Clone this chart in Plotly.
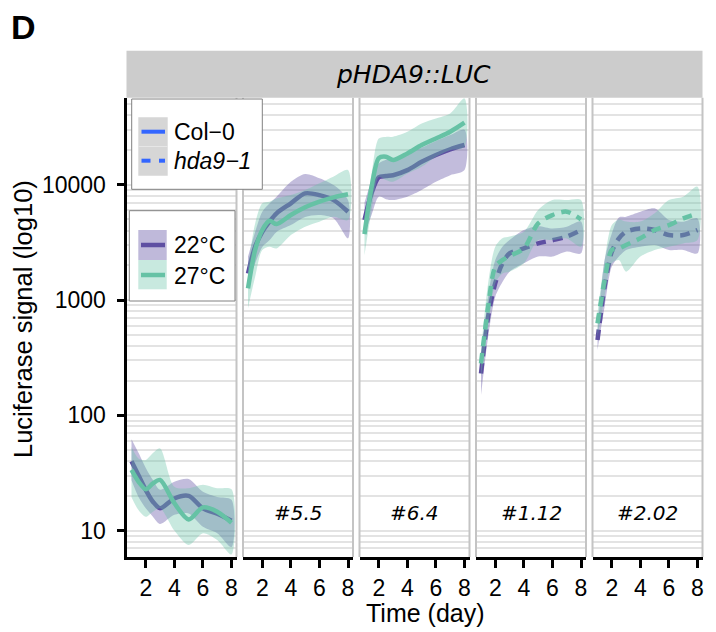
import plotly.graph_objects as go

# ---------------- data ----------------
days = [1, 1.5, 2, 2.5, 3, 4, 5, 6, 7, 8]
panel_labels = ["", "#5.5", "#6.4", "#1.12", "#2.02"]
panel_genotype = ["Col-0", "Col-0", "Col-0", "hda9-1", "hda9-1"]
y_tick_values = [10, 100, 1000, 10000]
y_tick_labels = ["10", "100", "1000", "10000"]
x_tick_values = [2, 4, 6, 8]

# panel 1 (no label)
p1_22_fit = [40, 30, 22.5, 17.8, 15.6, 19, 20, 15.6, 14, 12.2]
p1_22_lo = [27.4, 19.5, 15.6, 13.2, 11.4, 13.7, 14.1, 10.8, 9.5, 7.2]
p1_22_hi = [62, 47, 35, 27.5, 22.6, 26.5, 28, 21.7, 19.6, 18.5]
p1_27_fit = [33.6, 26.5, 22.8, 25.7, 27.5, 17.3, 12.5, 15.9, 14.6, 11.7]
p1_27_lo = [19.5, 15, 13.2, 14.6, 15.6, 10, 7.5, 9.5, 8.3, 6.2]
p1_27_hi = [53, 42, 41, 47, 51.6, 24, 23.3, 25, 23.3, 22.8]
# panel 2 (#5.5)
p2_22_fit = [1700, 2900, 3900, 4780, 5650, 6900, 8420, 8130, 7360, 5830]
p2_22_lo = [1400, 2080, 2890, 3300, 3900, 4470, 5260, 5460, 5100, 3430]
p2_22_hi = [2380, 3890, 5830, 6880, 7870, 10600, 12400, 11400, 9930, 7360]
p2_27_fit = [1260, 2720, 4050, 4870, 4560, 5460, 6370, 7130, 7760, 8260]
p2_27_lo = [850, 1590, 2720, 2900, 2800, 3660, 4330, 4780, 5270, 4940]
p2_27_hi = [1950, 4620, 6900, 7130, 7600, 8130, 9000, 10300, 11800, 13400]
# panel 3 (#6.4)
p3_22_fit = [4940, 8500, 11600, 11900, 12100, 13400, 15800, 18100, 20300, 22100]
p3_22_lo = [3700, 5500, 7870, 7500, 7360, 7870, 9000, 10600, 12100, 13400]
p3_22_hi = [7000, 11000, 15300, 16500, 17000, 18500, 21000, 24000, 27000, 30000]
p3_27_fit = [3730, 9600, 17000, 17500, 16400, 18700, 22100, 25200, 28800, 34500]
p3_27_lo = [2450, 6000, 11700, 11000, 10600, 12500, 14300, 17500, 19950, 21400]
p3_27_hi = [5250, 12500, 25200, 26000, 26100, 28800, 34000, 37600, 41500, 56100]
# panel 4 (#1.12)
p4_22_fit = [231, 718, 1400, 2080, 2540, 2800, 3100, 3300, 3550, 4050]
p4_22_lo = [150, 481, 1070, 1430, 1760, 2080, 2380, 2380, 2630, 2540]
p4_22_hi = [302, 1070, 2220, 2900, 3310, 4050, 4370, 4170, 4320, 4790]
p4_27_fit = [282, 877, 1950, 2220, 2410, 2800, 4620, 5460, 5840, 5010]
p4_27_lo = [216, 588, 1400, 1700, 1760, 2080, 3310, 3310, 3420, 2900]
p4_27_hi = [369, 1400, 2900, 3430, 3550, 3910, 6030, 7360, 7360, 7360]
# panel 5 (#2.02)
p5_22_fit = [450, 1310, 2620, 3430, 3910, 4170, 4050, 3660, 3660, 4050]
p5_22_lo = [368, 877, 1950, 2380, 2720, 2900, 3000, 2720, 2720, 2540]
p5_22_hi = [550, 2220, 3780, 5200, 5280, 5830, 6240, 4940, 4780, 5100]
p5_27_fit = [628, 1490, 2720, 2800, 3000, 3430, 4050, 4470, 5100, 5650]
p5_27_lo = [481, 1070, 2080, 2220, 1760, 2380, 2720, 2900, 3100, 3310]
p5_27_hi = [766, 2220, 4470, 5000, 4790, 4790, 5650, 7360, 7870, 9620]

panels = [
    {"22": (p1_22_fit, p1_22_lo, p1_22_hi), "27": (p1_27_fit, p1_27_lo, p1_27_hi)},
    {"22": (p2_22_fit, p2_22_lo, p2_22_hi), "27": (p2_27_fit, p2_27_lo, p2_27_hi)},
    {"22": (p3_22_fit, p3_22_lo, p3_22_hi), "27": (p3_27_fit, p3_27_lo, p3_27_hi)},
    {"22": (p4_22_fit, p4_22_lo, p4_22_hi), "27": (p4_27_fit, p4_27_lo, p4_27_hi)},
    {"22": (p5_22_fit, p5_22_lo, p5_22_hi), "27": (p5_27_fit, p5_27_lo, p5_27_hi)},
]

# ---------------- styling ----------------
W, H = 716, 632
LINE_COL = {"22": "#5E4FA2", "27": "#66C2A5"}
FILL_COL = {"22": "rgba(94,79,162,0.38)", "27": "rgba(102,194,165,0.36)"}
SANS = "Liberation Sans, Arial, sans-serif"
VERD = "DejaVu Sans, Verdana, sans-serif"

def fx(px):
    return px / W

def fy(py):
    return 1 - py / H

panel_px = [(126.5, 236.5), (243, 353), (359.5, 469.5), (476, 586), (592.5, 702.5)]
y_top, y_bot = 97.7, 557
ydom = [fy(y_bot), fy(y_top)]

minor_vals = []
for dec in [1, 10, 100, 1000, 10000]:
    for m in range(2, 10):
        v = m * dec
        if 5.9 <= v <= 57000:
            minor_vals.append(v)

fig = go.Figure()

for i, pdat in enumerate(panels):
    xa = "x" if i == 0 else f"x{i+1}"
    ya = "y" if i == 0 else f"y{i+1}"
    dash = "solid" if panel_genotype[i] == "Col-0" else "10px,7px"
    for temp in ["22", "27"]:
        fit, lo, hi = pdat[temp]
        fig.add_trace(go.Scatter(
            x=days + days[::-1], y=hi + lo[::-1], xaxis=xa, yaxis=ya,
            fill="toself", fillcolor=FILL_COL[temp], mode="lines",
            line=dict(width=0, shape="spline", smoothing=0.8),
            hoverinfo="skip", showlegend=False))
        fig.add_trace(go.Scatter(
            x=days, y=fit, xaxis=xa, yaxis=ya, mode="lines",
            line=dict(color=LINE_COL[temp], width=4.5, dash=dash,
                      shape="spline", smoothing=0.8),
            showlegend=False))

layout = dict(
    width=W, height=H, margin=dict(l=0, r=0, t=0, b=0),
    paper_bgcolor="white", plot_bgcolor="white", showlegend=False,
)
shapes = []
annotations = []

for i in range(5):
    sfx = "" if i == 0 else str(i + 1)
    x0, x1 = panel_px[i]
    layout["xaxis" + sfx] = dict(
        domain=[fx(x0), fx(x1)], range=[0.65, 8.35], anchor="y" + sfx,
        tickmode="array", tickvals=x_tick_values, ticks="outside",
        ticklen=8, tickwidth=2.5, tickcolor="black",
        showline=True, linecolor="black", linewidth=3,
        showgrid=False, zeroline=False,
        tickfont=dict(family=SANS, size=23, color="black"),
    )
    ya = dict(
        type="log", domain=ydom, range=[0.771, 4.755], anchor="x" + sfx,
        showgrid=True, gridcolor="#E3E3E3", gridwidth=1.6, zeroline=False,
        tickmode="array", tickvals=y_tick_values, ticktext=y_tick_labels,
        minor=dict(tickmode="array", tickvals=minor_vals, showgrid=True,
                   gridcolor="#E3E3E3", gridwidth=1.6, ticks=""),
    )
    if i == 0:
        ya.update(ticks="outside", ticklen=7, tickwidth=2.5, tickcolor="black",
                  showline=True, linecolor="black", linewidth=3,
                  tickfont=dict(family=SANS, size=23, color="black"),
                  ticklabelstandoff=6)
    else:
        ya.update(ticks="", showticklabels=False, showline=False, matches="y")
    layout["yaxis" + sfx] = ya

    # panel borders (grey)
    xd = ("x" if i == 0 else f"x{i+1}") + " domain"
    yd = ("y" if i == 0 else f"y{i+1}") + " domain"
    if i > 0:
        shapes.append(dict(type="line", xref=xd, yref=yd, x0=0, x1=0, y0=0, y1=1,
                           line=dict(color="#C4C4C4", width=2)))
    shapes.append(dict(type="line", xref=xd, yref=yd, x0=1, x1=1, y0=0, y1=1,
                       line=dict(color="#C4C4C4", width=2)))

    if panel_labels[i]:
        annotations.append(dict(
            text=panel_labels[i], xref="x" + sfx, yref="y" + sfx,
            x=4.5, y=1.15, showarrow=False, xanchor="center", yanchor="middle",
            font=dict(family=VERD, size=20, color="black", style="italic")))

# strip
shapes.append(dict(type="rect", xref="paper", yref="paper",
                   x0=fx(126.5), x1=fx(702.5), y0=fy(97.7), y1=fy(50.7),
                   fillcolor="#CCCCCC", line=dict(width=0), layer="above"))
annotations.append(dict(text="pHDA9::LUC", xref="paper", yref="paper",
                        x=fx(413.5), y=fy(74.5), showarrow=False,
                        xanchor="center", yanchor="middle",
                        font=dict(family=VERD, size=25, color="black", style="italic")))

# panel label "D"
annotations.append(dict(text="<b>D</b>", xref="paper", yref="paper",
                        x=fx(9), y=fy(27), showarrow=False,
                        xanchor="left", yanchor="middle",
                        font=dict(family=SANS, size=34, color="black")))

# axis titles
annotations.append(dict(text="Luciferase signal (log10)", xref="paper", yref="paper",
                        x=fx(23), y=fy(319), showarrow=False, textangle=-90,
                        xanchor="center", yanchor="middle",
                        font=dict(family=SANS, size=25.5, color="black")))
annotations.append(dict(text="Time (day)", xref="paper", yref="paper",
                        x=fx(425), y=fy(613), showarrow=False,
                        xanchor="center", yanchor="middle",
                        font=dict(family=SANS, size=25, color="black")))

# legend 1: genotype (linetype)
def prect(x0, y0, x1, y1, fill, line_col=None, lw=0):
    return dict(type="rect", xref="paper", yref="paper",
                x0=fx(x0), x1=fx(x1), y0=fy(y1), y1=fy(y0),
                fillcolor=fill, line=dict(color=line_col or fill, width=lw),
                layer="above")

def pline(x0, y0, x1, y1, col, w):
    return dict(type="line", xref="paper", yref="paper",
                x0=fx(x0), x1=fx(x1), y0=fy(y0), y1=fy(y1),
                line=dict(color=col, width=w), layer="above")

shapes.append(prect(131.7, 99, 262.3, 189.3, "white", "#808080", 1))
shapes.append(prect(138.3, 117.3, 167.7, 175.7, "#D6D6D6"))
shapes.append(pline(138.3, 146.5, 167.7, 146.5, "#E6E6E6", 1))
shapes.append(pline(141.5, 131.7, 165, 131.7, "#3366FF", 4))
shapes.append(pline(141.5, 160.7, 150.5, 160.7, "#3366FF", 4))
shapes.append(pline(159, 160.7, 165, 160.7, "#3366FF", 4))
annotations.append(dict(text="Col\u22120", xref="paper", yref="paper",
                        x=fx(172), y=fy(132), showarrow=False,
                        xanchor="left", yanchor="middle",
                        font=dict(family=SANS, size=23, color="black")))
annotations.append(dict(text="<i>hda9\u22121</i>", xref="paper", yref="paper",
                        x=fx(172), y=fy(161), showarrow=False,
                        xanchor="left", yanchor="middle",
                        font=dict(family=SANS, size=23, color="black")))

# legend 2: temperature (colour)
shapes.append(prect(129.3, 210.7, 235, 301, "white", "#808080", 1))
shapes.append(prect(138.3, 230, 166.7, 260, "rgba(94,79,162,0.40)"))
shapes.append(prect(138.3, 260, 166.7, 289.3, "rgba(102,194,165,0.36)"))
shapes.append(pline(141, 245, 165, 245, LINE_COL["22"], 4.5))
shapes.append(pline(141, 275, 165, 275, LINE_COL["27"], 4.5))
annotations.append(dict(text="22\u00b0C", xref="paper", yref="paper",
                        x=fx(172), y=fy(245.5), showarrow=False,
                        xanchor="left", yanchor="middle",
                        font=dict(family=SANS, size=23, color="black")))
annotations.append(dict(text="27\u00b0C", xref="paper", yref="paper",
                        x=fx(172), y=fy(275.5), showarrow=False,
                        xanchor="left", yanchor="middle",
                        font=dict(family=SANS, size=23, color="black")))

layout["shapes"] = shapes
layout["annotations"] = annotations
fig.update_layout(**layout)
fig.write_html("out.html", config={"displayModeBar": False},
               post_script="document.body.style.margin='0px';document.body.style.overflow='hidden';")
